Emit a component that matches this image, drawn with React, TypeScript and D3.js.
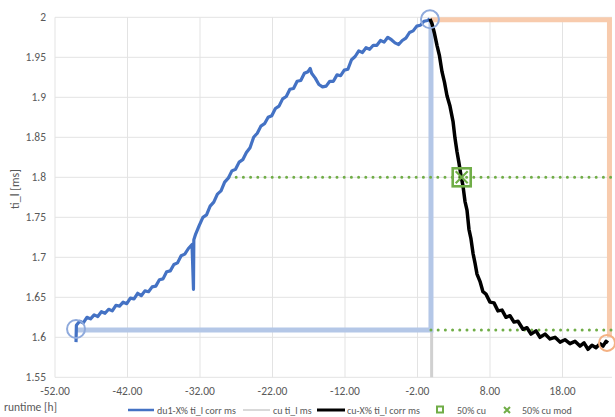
import React from "react";
import * as d3 from "d3";

// du1-X% ti_l corr ms  [runtime h, ti_l ms]
const du1Series: [number, number][] = [
  [-49.1, 1.594], [-49.05, 1.615], [-48.6, 1.62], [-48.1, 1.618], [-47.6, 1.625], [-47.1, 1.623],
  [-46.6, 1.628], [-46.1, 1.626], [-45.6, 1.632], [-45.1, 1.63], [-44.6, 1.635], [-44.1, 1.633],
  [-43.6, 1.64], [-43.1, 1.639], [-42.6, 1.644], [-42.1, 1.642], [-41.6, 1.649], [-41.1, 1.648],
  [-40.6, 1.655], [-40.1, 1.652], [-39.6, 1.658], [-39.1, 1.657], [-38.6, 1.663], [-38.1, 1.664],
  [-37.6, 1.672], [-37.1, 1.673], [-36.6, 1.682], [-36.1, 1.683], [-35.6, 1.691], [-35.1, 1.693],
  [-34.6, 1.702], [-34.1, 1.704], [-33.6, 1.711], [-33.1, 1.716], [-32.9, 1.66], [-32.85, 1.722],
  [-32.6, 1.729], [-32.1, 1.74], [-31.6, 1.75], [-31.1, 1.753], [-30.6, 1.764], [-30.1, 1.769],
  [-29.6, 1.779], [-29.1, 1.783], [-28.6, 1.794], [-28.1, 1.799], [-27.6, 1.808], [-27.1, 1.81],
  [-26.6, 1.819], [-26.1, 1.822], [-25.6, 1.831], [-25.1, 1.837], [-24.6, 1.85], [-24.1, 1.855],
  [-23.6, 1.864], [-23.1, 1.867], [-22.6, 1.875], [-22.1, 1.877], [-21.6, 1.886], [-21.1, 1.889],
  [-20.6, 1.898], [-20.1, 1.901], [-19.6, 1.91], [-19.1, 1.911], [-18.6, 1.92], [-18.1, 1.921],
  [-17.6, 1.93], [-17.1, 1.932], [-16.8, 1.936], [-16.6, 1.93], [-16.1, 1.924], [-15.6, 1.916],
  [-15.1, 1.913], [-14.6, 1.914], [-14.1, 1.92], [-13.6, 1.92], [-13.1, 1.928], [-12.6, 1.927],
  [-12.1, 1.934], [-11.6, 1.935], [-11.1, 1.947], [-10.6, 1.951], [-10.1, 1.958], [-9.6, 1.956],
  [-9.1, 1.962], [-8.6, 1.96], [-8.1, 1.965], [-7.6, 1.965], [-7.1, 1.971], [-6.6, 1.969],
  [-6.1, 1.975], [-5.6, 1.972], [-5.1, 1.968], [-4.6, 1.966], [-4.1, 1.971], [-3.6, 1.974],
  [-3.1, 1.981], [-2.6, 1.983], [-2.1, 1.989], [-1.6, 1.99], [-1.1, 1.995], [-0.6, 1.996],
  [-0.3, 1.998],
];

// cu-X% ti_l corr ms
const cuXSeries: [number, number][] = [
  [-0.28, 1.998], [0.0, 1.992], [0.34, 1.98], [0.69, 1.965], [1.03, 1.952], [1.38, 1.932],
  [1.72, 1.919], [2.07, 1.902], [2.48, 1.889], [2.9, 1.87], [3.17, 1.849], [3.45, 1.832],
  [3.72, 1.818], [4.0, 1.802], [4.28, 1.789], [4.55, 1.77], [4.83, 1.759], [5.1, 1.735],
  [5.38, 1.723], [5.66, 1.705], [5.93, 1.693], [6.21, 1.679], [6.62, 1.67], [7.03, 1.657],
  [7.45, 1.654], [8.0, 1.644], [8.55, 1.643], [9.1, 1.633], [9.66, 1.634], [10.21, 1.625],
  [10.76, 1.627], [11.31, 1.619], [11.86, 1.62], [12.55, 1.61], [13.1, 1.612], [13.66, 1.604],
  [14.34, 1.608], [14.9, 1.6], [15.59, 1.604], [16.28, 1.598], [16.97, 1.6], [17.66, 1.594],
  [18.34, 1.597], [19.03, 1.592], [19.72, 1.595], [20.41, 1.589], [20.97, 1.593], [21.52, 1.585],
  [22.07, 1.59], [22.62, 1.587], [23.17, 1.592], [23.59, 1.589], [24.0, 1.595], [24.28, 1.593],
];

// cu ti_l ms
const cuSeries: [number, number][] = [[-0.05, 1.55], [-0.05, 1.609]];

// helper guides
const blueGuide: [number, number][] = [[-49.1, 1.609], [-0.14, 1.609], [-0.14, 1.997]];
const orangeGuide: [number, number][] = [[-0.14, 1.997], [24.48, 1.997], [24.48, 1.6]];
const dotted80: [number, number][] = [[-28.0, 1.8], [24.83, 1.8]];
const dottedBase: [number, number][] = [[-0.14, 1.609], [24.83, 1.609]];
const blueCircles: [number, number][] = [[-49.1, 1.6104], [-0.28, 1.9975]];
const orangeCircles: [number, number][] = [[24.14, 1.593]];
const half50: [number, number] = [4.1, 1.8];

const xTicks = [-52, -42, -32, -22, -12, -2, 8, 18];
const yTicks = [1.55, 1.6, 1.65, 1.7, 1.75, 1.8, 1.85, 1.9, 1.95, 2];

const W = 615;
const H = 417;
const left = 55;
const right = 612;
const top = 17.3;
const bottom = 377.3;
const font = "Carlito, Calibri, Lato, sans-serif";
const textColor = "#595959";

export default function App() {
  const x = d3.scaleLinear().domain([-52, 24.83]).range([left, right]);
  const y = d3.scaleLinear().domain([1.55, 2]).range([bottom, top]);
  const line = d3
    .line<[number, number]>()
    .x((d) => x(d[0]))
    .y((d) => y(d[1]));

  const sx = x(half50[0]);
  const sy = y(half50[1]);

  const legendY = 410;

  return (
    <div style={{ position: "fixed", left: 0, top: 0 }}>
      <svg width={W} height={H} style={{ display: "block", background: "#fff" }}>
        {/* grid */}
        {yTicks.map((t) => (
          <line key={"gy" + t} x1={left} x2={right} y1={y(t)} y2={y(t)} stroke="#e3e3e3" strokeWidth={1} />
        ))}
        {xTicks.map((t) => (
          <line key={"gx" + t} x1={x(t)} x2={x(t)} y1={top} y2={bottom} stroke="#e3e3e3" strokeWidth={1} />
        ))}

        {/* tick labels */}
        {yTicks.map((t) => (
          <text key={"ly" + t} x={46} y={y(t)} dy="0.35em" textAnchor="end" fontSize={11.5} fontFamily={font} fill={textColor}>
            {String(+t.toFixed(2))}
          </text>
        ))}
        {xTicks.map((t) => (
          <text key={"lx" + t} x={x(t)} y={391} dy="0.35em" textAnchor="middle" fontSize={11.5} fontFamily={font} fill={textColor}>
            {t.toFixed(2)}
          </text>
        ))}

        {/* axis titles */}
        <text transform="translate(15,189) rotate(-90)" textAnchor="middle" dy="0.35em" fontSize={12} fontFamily={font} fill={textColor}>
          ti_l [ms]
        </text>
        <text x={4} y={407} dy="0.35em" fontSize={11.5} fontFamily={font} fill={textColor}>
          runtime [h]
        </text>

        {/* guides */}
        <path d={line(cuSeries) || ""} fill="none" stroke="#d0d0d0" strokeWidth={3} />
        <path d={line(blueGuide) || ""} fill="none" stroke="#b4c7e7" strokeWidth={5} />
        <path d={line(orangeGuide) || ""} fill="none" stroke="#f8cbad" strokeWidth={5} />
        <path d={line(dotted80) || ""} fill="none" stroke="#70ad47" strokeWidth={3} strokeDasharray="0 7.2" strokeLinecap="round" />
        <path d={line(dottedBase) || ""} fill="none" stroke="#70ad47" strokeWidth={3} strokeDasharray="0 7.2" strokeLinecap="round" />

        {/* series */}
        <path d={line(du1Series) || ""} fill="none" stroke="#4472c4" strokeWidth={3.2} strokeLinejoin="round" />
        <path d={line(cuXSeries) || ""} fill="none" stroke="#000" strokeWidth={3.5} strokeLinejoin="round" />

        {/* circles */}
        {blueCircles.map((d, i) => (
          <circle key={"bc" + i} cx={x(d[0])} cy={y(d[1])} r={9} fill="none" stroke="#8faadc" strokeWidth={2} />
        ))}
        {orangeCircles.map((d, i) => (
          <circle key={"oc" + i} cx={x(d[0])} cy={y(d[1])} r={8} fill="none" stroke="#f4b183" strokeWidth={2} />
        ))}

        {/* 50% markers */}
        <rect x={sx - 9} y={sy - 9} width={18} height={18} fill="none" stroke="#70ad47" strokeWidth={2.6} />
        <path d={`M${sx - 6},${sy - 6}L${sx + 6},${sy + 6}M${sx + 6},${sy - 6}L${sx - 6},${sy + 6}`} stroke="#70ad47" strokeWidth={2.2} />

        {/* legend */}
        <line x1={128} x2={154} y1={legendY} y2={legendY} stroke="#4472c4" strokeWidth={2.5} />
        <text x={157} y={legendY} dy="0.35em" fontSize={10} fontFamily={font} fill={textColor}>du1-X% ti_l corr ms</text>
        <line x1={243} x2={270} y1={legendY} y2={legendY} stroke="#d9d9d9" strokeWidth={2} />
        <text x={273} y={legendY} dy="0.35em" fontSize={10} fontFamily={font} fill={textColor}>cu ti_l ms</text>
        <line x1={317} x2={345} y1={legendY} y2={legendY} stroke="#000" strokeWidth={3} />
        <text x={347} y={legendY} dy="0.35em" fontSize={10} fontFamily={font} fill={textColor}>cu-X% ti_l corr ms</text>
        <rect x={437} y={legendY - 3.5} width={6} height={6} fill="none" stroke="#70ad47" strokeWidth={2} />
        <text x={457} y={legendY} dy="0.35em" fontSize={10} fontFamily={font} fill={textColor}>50% cu</text>
        <path d={`M${504},${legendY - 3}L${510},${legendY + 3}M${510},${legendY - 3}L${504},${legendY + 3}`} stroke="#70ad47" strokeWidth={2} />
        <text x={522} y={legendY} dy="0.35em" fontSize={10} fontFamily={font} fill={textColor}>50% cu mod</text>
      </svg>
    </div>
  );
}
